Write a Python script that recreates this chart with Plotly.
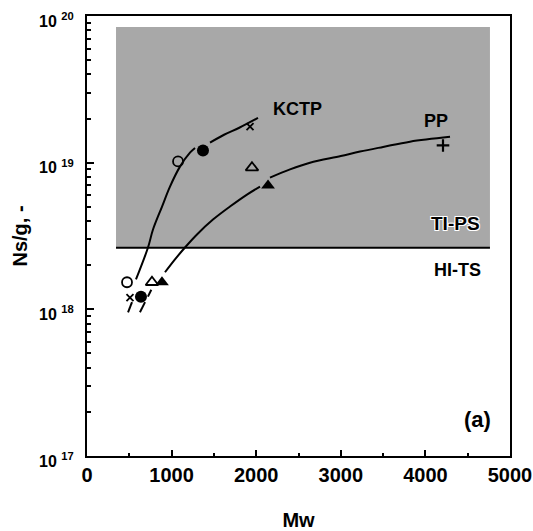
import plotly.graph_objects as go

# ---- data ----
open_circle_mw = [473, 1076]
open_circle_ns = [1.53e18, 1.02e19]
filled_circle_mw = [638, 1371]
filled_circle_ns = [1.22e18, 1.21e19]
open_tri_mw = [768, 1950]
open_tri_ns = [1.53e18, 9.25e18]
filled_tri_mw = [886, 2140]
filled_tri_ns = [1.53e18, 6.98e18]
cross_mw = [508, 1927]
cross_ns = [1.20e18, 1.76e19]
plus_mw = [4208]
plus_ns = [1.31e19]

kctp_mw = [485, 532, None, 579, 721, 780, 887, 981, 1099, 1217, 1277,
           None, 1454, 1620, 1800, 2021]
kctp_ns = [9.55e17, 1.12e18, None, 1.60e18, 2.64e18, 3.50e18, 5.02e18, 6.87e18, 9.40e18,
           1.17e19, 1.26e19, None, 1.37e19, 1.55e19, 1.73e19, 2.02e19]
pp_mw = [626, 686, None, 720, 760, None, 922, 1040, 1158, 1300, 1489, 1690, 1891, 2045,
         None, 2163, 2400, 2636, 3000, 3227, 3500, 3818, 4291]
pp_ns = [9.55e17, 1.12e18, None, 1.22e18, 1.36e18, None, 1.79e18, 2.19e18, 2.64e18, 3.24e18,
         4.09e18, 5.02e18, 6.06e18, 6.87e18, None, 7.91e18, 9.00e18, 1.0e19, 1.11e19, 1.19e19,
         1.28e19, 1.39e19, 1.50e19]

region_mw = [343, 4763]
region_ns = [2.63e18, 8.4e19]

x_ticks = [0, 1000, 2000, 3000, 4000, 5000]
y_ticks = [1e17, 1e18, 1e19, 1e20]
y_tick_labels = ["10 <sup>17</sup>", "10 <sup>18</sup>", "10 <sup>19</sup>", "10 <sup>20</sup>"]
y_minor = [float(m) * 10.0 ** e for e in (17, 18, 19) for m in range(2, 10)]

FONT = "Liberation Sans, Arial, sans-serif"

fig = go.Figure()

line_style = dict(color="black", width=2, shape="spline", smoothing=1.0)
fig.add_trace(go.Scatter(x=kctp_mw, y=kctp_ns, mode="lines", line=line_style,
                         connectgaps=False, showlegend=False))
fig.add_trace(go.Scatter(x=pp_mw, y=pp_ns, mode="lines", line=line_style,
                         connectgaps=False, showlegend=False))

fig.add_trace(go.Scatter(x=open_circle_mw, y=open_circle_ns, mode="markers",
                         marker=dict(symbol="circle-open", size=10, color="black",
                                     line=dict(width=1.8)), showlegend=False))
fig.add_trace(go.Scatter(x=filled_circle_mw, y=filled_circle_ns, mode="markers",
                         marker=dict(symbol="circle", size=12, color="black"), showlegend=False))
fig.add_trace(go.Scatter(x=open_tri_mw, y=open_tri_ns, mode="markers",
                         marker=dict(symbol="triangle-up-open", size=11, color="black",
                                     line=dict(width=1.8)), showlegend=False))
fig.add_trace(go.Scatter(x=filled_tri_mw, y=filled_tri_ns, mode="markers",
                         marker=dict(symbol="triangle-up", size=12, color="black"), showlegend=False))
fig.add_trace(go.Scatter(x=cross_mw, y=cross_ns, mode="markers",
                         marker=dict(symbol="x-thin-open", size=7, color="black",
                                     line=dict(width=1.8, color="black")), showlegend=False))
fig.add_trace(go.Scatter(x=plus_mw, y=plus_ns, mode="markers",
                         marker=dict(symbol="cross-thin-open", size=9, color="black",
                                     line=dict(width=2.2, color="black")), showlegend=False))

# shaded region
fig.add_shape(type="rect", xref="x", yref="y", x0=region_mw[0], x1=region_mw[1],
              y0=region_ns[0], y1=region_ns[1], fillcolor="#a8a8a8",
              line=dict(width=0), layer="below")
fig.add_shape(type="line", xref="x", yref="y", x0=region_mw[0], x1=region_mw[1],
              y0=region_ns[0], y1=region_ns[0], line=dict(color="black", width=2), layer="below")

bold = dict(family=FONT, color="black", weight="bold")
fig.add_annotation(x=2494, y=19.367, text="KCTP", showarrow=False, font=dict(size=18, **bold))
fig.add_annotation(x=4125, y=19.286, text="PP", showarrow=False, font=dict(size=18, **bold))
fig.add_annotation(x=4350, y=18.585, text="TI-PS", showarrow=False,
                   font=dict(size=19, shadow="1px 1px 0 white, -1px -1px 0 white, 1px -1px 0 white, -1px 1px 0 white", **bold))
fig.add_annotation(x=4385, y=18.265, text="HI-TS", showarrow=False, font=dict(size=18, **bold))
fig.add_annotation(x=4610, y=17.250, text="(a)", showarrow=False, font=dict(size=22, **bold))

fig.update_layout(
    width=533, height=531,
    margin=dict(l=87, r=23, t=16, b=75),
    paper_bgcolor="white", plot_bgcolor="white",
    font=dict(family=FONT, color="black"),
    showlegend=False,
)
fig.update_xaxes(
    range=[0, 5000], tickvals=x_ticks, ticks="inside", ticklen=6, tickwidth=2,
    tickcolor="black", showline=True, linecolor="black", linewidth=2, mirror=True,
    showgrid=False, zeroline=False, tickfont=dict(size=20, **bold), ticklabelstandoff=0,
    minor=dict(dtick=500, ticks="inside", ticklen=3, tickwidth=2, tickcolor="black", showgrid=False),
    title=dict(text="Mw", font=dict(size=20, **bold), standoff=34), automargin=False,
)
fig.update_yaxes(
    type="log", range=[17, 20], tickvals=y_ticks, ticktext=y_tick_labels,
    ticks="inside", ticklen=7, tickwidth=2, tickcolor="black",
    showline=True, linecolor="black", linewidth=2, mirror=True,
    showgrid=False, zeroline=False, tickfont=dict(size=16, **bold), ticklabelstandoff=8,
    ticklabelshift=5,
    minor=dict(tickvals=y_minor, ticks="inside", ticklen=4, tickwidth=2, tickcolor="black", showgrid=False),
    title=dict(text="Ns/g, -", font=dict(size=20, **bold), standoff=6), automargin=False,
)

# remove the default page margin so the 533x531 figure fills the window exactly
fig.write_html("out.html", config={"displayModeBar": False},
               post_script="document.body.style.margin='0';")
